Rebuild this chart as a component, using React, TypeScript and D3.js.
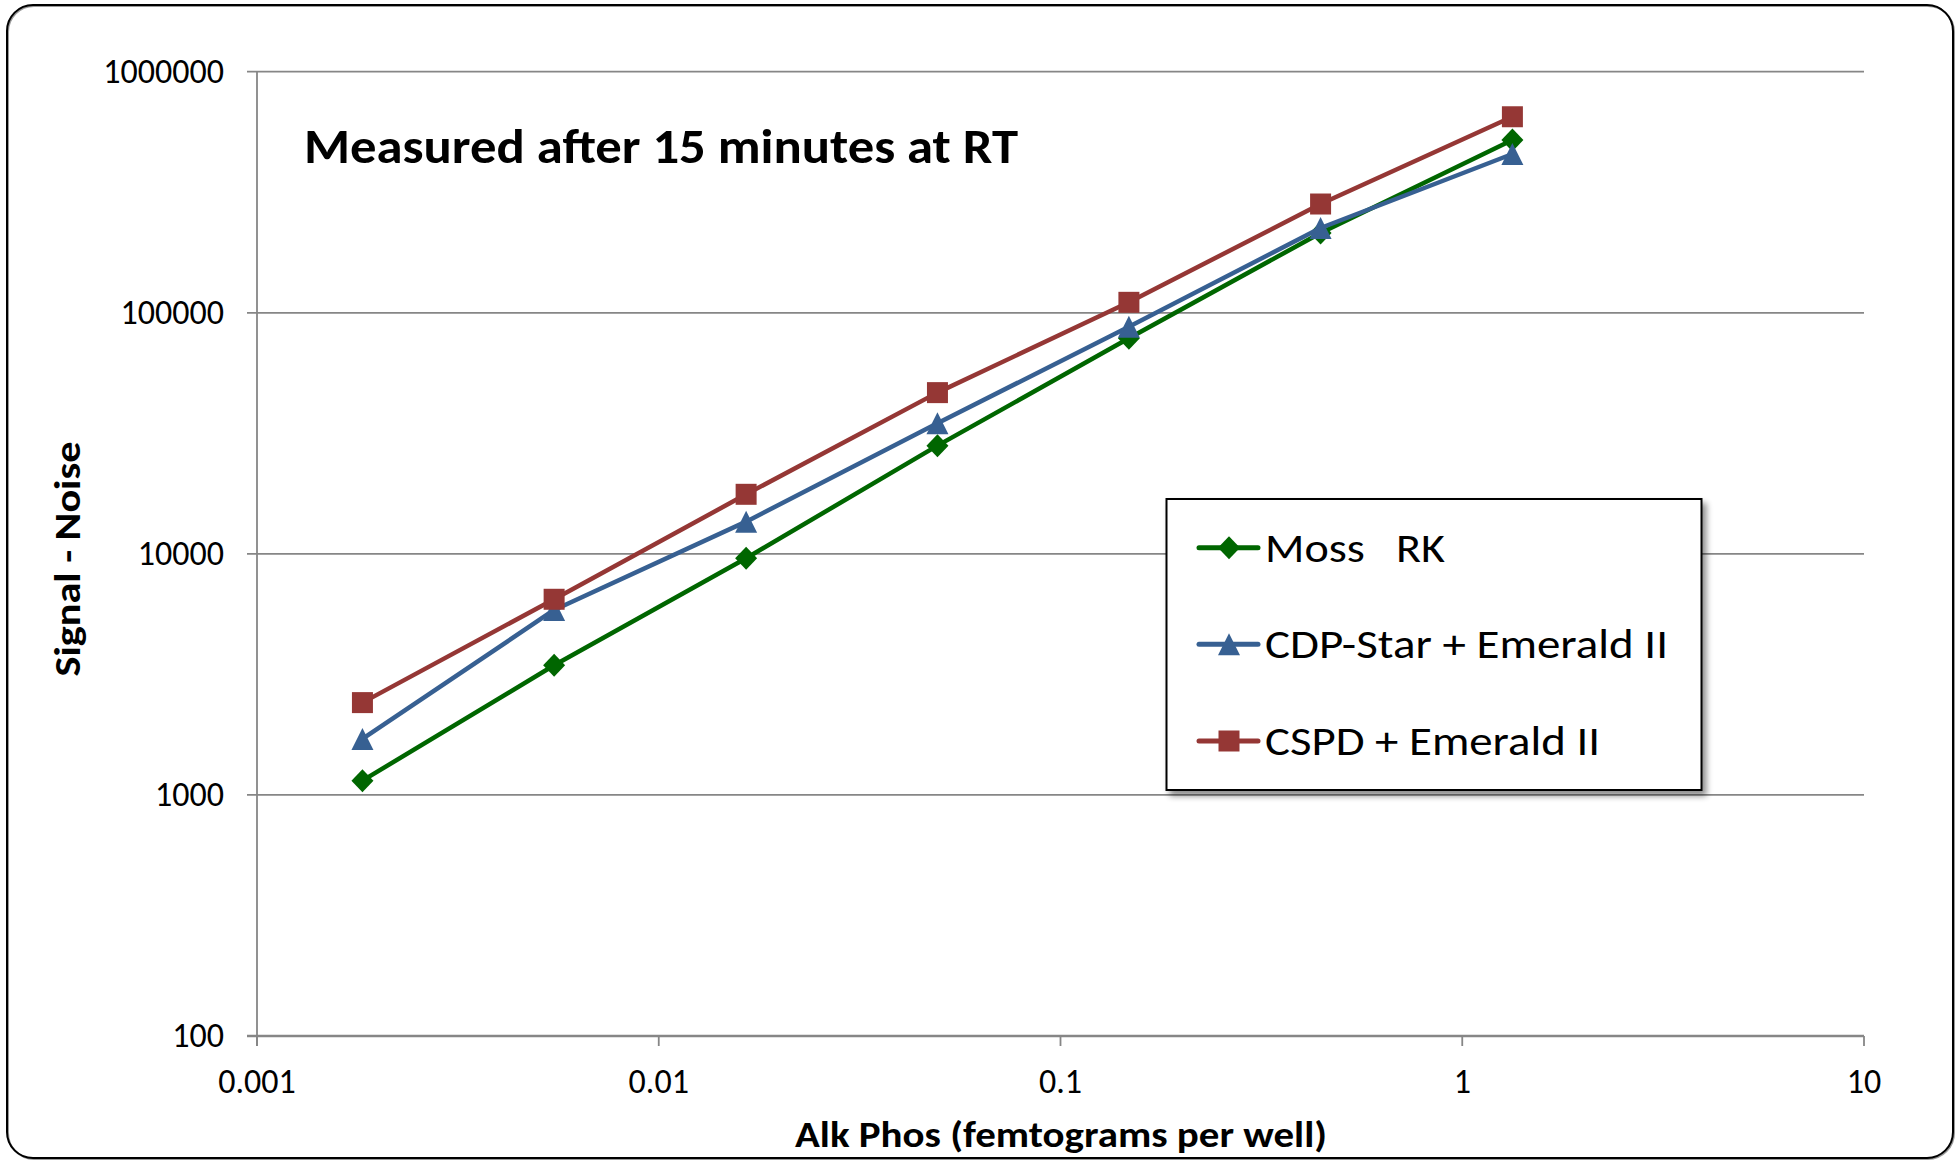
import React from "react";
import * as d3 from "d3";

const xValues = [0.00183, 0.00549, 0.0165, 0.0494, 0.148, 0.444, 1.333];
const mossRK = [1146, 3450, 9590, 28100, 78400, 214300, 520900];
const cdpStar = [1707, 5850, 13600, 34820, 87500, 224700, 455700];
const cspd = [2415, 6480, 17660, 46640, 110500, 282600, 650300];

const seriesNames = ["Moss   RK", "CDP-Star + Emerald II", "CSPD + Emerald II"];
const seriesColors = ["#006600", "#376092", "#953735"];
const seriesMarkers = ["diamond", "triangle", "square"];
const legendTextWidths = [180, 403, 335];

const xTicks = [0.001, 0.01, 0.1, 1, 10];
const xTickLabels = ["0.001", "0.01", "0.1", "1", "10"];
const yTicks = [100, 1000, 10000, 100000, 1000000];
const yTickLabels = ["100", "1000", "10000", "100000", "1000000"];

const titleText = "Measured after 15 minutes at RT";
const xTitle = "Alk Phos (femtograms per well)";
const yTitle = "Signal - Noise";

const W = 1957;
const H = 1162;
const FONT = "Carlito, Lato, 'Open Sans', sans-serif";

function markerPath(kind: string): string {
  if (kind === "square") return d3.symbol(d3.symbolSquare, 441)() as string;
  if (kind === "triangle") return "M0,-11L11,11L-11,11Z";
  return "M0,-11.5L11,0L0,11.5L-11,0Z";
}

export default function App() {
  const x = d3.scaleLog().domain([0.001, 10]).range([257, 1864]);
  const y = d3.scaleLog().domain([100, 1000000]).range([1036, 71.7]);
  const allSeries = [mossRK, cdpStar, cspd];
  const line = d3
    .line<[number, number]>()
    .x((d) => x(d[0]))
    .y((d) => y(d[1]));

  const legendRows = [547.7, 644.3, 741];

  return (
    <svg
      width={W}
      height={H}
      style={{ position: "absolute", left: 0, top: 0, background: "#fff" }}
      fontFamily={FONT}
    >
      <defs>
        <filter id="shadow" x="-10%" y="-10%" width="130%" height="130%">
          <feGaussianBlur in="SourceAlpha" stdDeviation="3" />
          <feOffset dx="4" dy="5" result="ob" />
          <feComponentTransfer>
            <feFuncA type="linear" slope="0.45" />
          </feComponentTransfer>
          <feMerge>
            <feMergeNode />
            <feMergeNode in="SourceGraphic" />
          </feMerge>
        </filter>
      </defs>
      <rect x={0} y={0} width={W} height={H} fill="#fff" />
      <rect x={8} y={6} width={1946} height={1153} rx={26} ry={26} fill="none" stroke="#9a9a9a" strokeWidth={2} />
      <rect x={7} y={5} width={1946} height={1153} rx={26} ry={26} fill="none" stroke="#000" strokeWidth={2} />

      {yTicks.map((t, i) => (
        <line
          key={"g" + i}
          x1={247}
          x2={1864}
          y1={y(t)}
          y2={y(t)}
          stroke="#868686"
          strokeWidth={i === 0 ? 2.5 : 1.8}
        />
      ))}
      <line x1={257} x2={257} y1={y(1000000)} y2={1046} stroke="#868686" strokeWidth={1.8} />
      {xTicks.map((t, i) => (
        <line key={"xt" + i} x1={x(t)} x2={x(t)} y1={1036} y2={1046} stroke="#868686" strokeWidth={1.8} />
      ))}
      {yTicks.map((t, i) => (
        <text key={"yl" + i} x={224} y={y(t) + 11} textAnchor="end" fontSize={34} fill="#000">
          {yTickLabels[i]}
        </text>
      ))}
      {xTicks.map((t, i) => (
        <text key={"xl" + i} x={x(t)} y={1093} textAnchor="middle" fontSize={34} fill="#000">
          {xTickLabels[i]}
        </text>
      ))}

      <text x={1061} y={1147} textAnchor="middle" fontSize={36} fontWeight="bold" fill="#000" textLength={532} lengthAdjust="spacingAndGlyphs">
        {xTitle}
      </text>
      <text
        transform={`translate(80,559) rotate(-90)`}
        textAnchor="middle"
        fontSize={36}
        fontWeight="bold"
        fill="#000"
        textLength={235}
        lengthAdjust="spacingAndGlyphs"
      >
        {yTitle}
      </text>

      <text x={304} y={163} fontSize={48} fontWeight="bold" fill="#000" textLength={714} lengthAdjust="spacingAndGlyphs">
        {titleText}
      </text>

      {allSeries.map((vals, si) => {
        const pts = vals.map((v, i) => [xValues[i], v] as [number, number]);
        return (
          <g key={"s" + si}>
            <path d={line(pts) as string} fill="none" stroke={seriesColors[si]} strokeWidth={4.5} strokeLinejoin="round" />
            {pts.map((p, i) => (
              <path
                key={"m" + i}
                d={markerPath(seriesMarkers[si])}
                transform={`translate(${x(p[0])},${y(p[1])})`}
                fill={seriesColors[si]}
              />
            ))}
          </g>
        );
      })}

      <rect x={1166.5} y={499} width={535} height={291} fill="#fff" stroke="#000" strokeWidth={2} filter="url(#shadow)" />
      {seriesNames.map((name, i) => (
        <g key={"lg" + i}>
          <line x1={1199} x2={1258} y1={legendRows[i]} y2={legendRows[i]} stroke={seriesColors[i]} strokeWidth={5} strokeLinecap="round" />
          <path d={markerPath(seriesMarkers[i])} transform={`translate(1229,${legendRows[i]})`} fill={seriesColors[i]} />
          <text
            x={1265}
            y={legendRows[i] + 14}
            fontSize={41}
            fill="#000"
            xmlSpace="preserve"
            style={{ whiteSpace: "pre" }}
            textLength={legendTextWidths[i]}
            lengthAdjust="spacingAndGlyphs"
          >
            {name}
          </text>
        </g>
      ))}
    </svg>
  );
}
